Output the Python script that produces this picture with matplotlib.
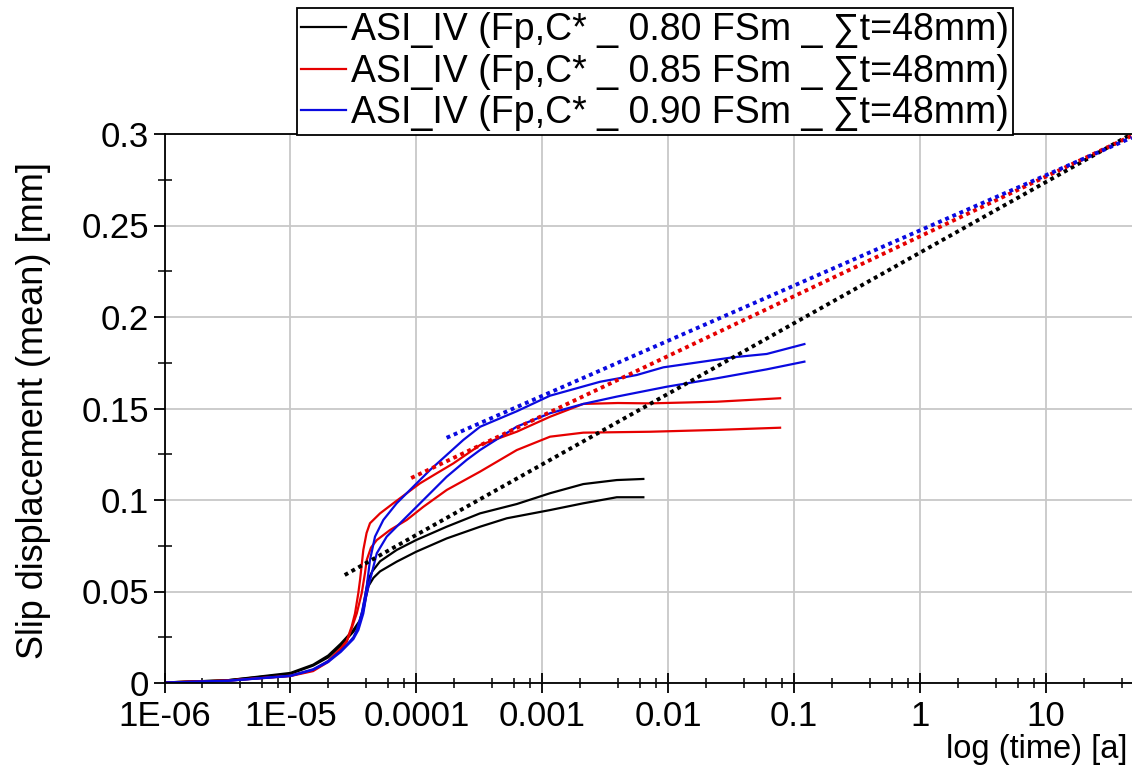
import numpy as np
import matplotlib
matplotlib.use("Agg")
import matplotlib.pyplot as plt
from matplotlib.ticker import LogLocator, MultipleLocator, FixedLocator, FixedFormatter

plt.rcParams['font.family'] = ['Liberation Sans', 'DejaVu Sans']

# measured curves, time stored as log10(t [a])
k1_logt = [-6.0, -5.5, -5.0, -4.82, -4.7, -4.6, -4.5, -4.45, -4.426, -4.405, -4.385, -4.35,
           -4.288, -4.156, -4.002, -3.759, -3.494, -3.202, -2.938, -2.674, -2.408, -2.197]
k1_y = [0.0003, 0.0015, 0.0055, 0.0100, 0.0150, 0.0215, 0.0290, 0.0340, 0.040, 0.048, 0.056, 0.061,
        0.0665, 0.0727, 0.0781, 0.0854, 0.0927, 0.0978, 0.1037, 0.1087, 0.1109, 0.1115]

k2_logt = [-6.0, -5.5, -5.0, -4.82, -4.7, -4.6, -4.5, -4.45, -4.42, -4.40, -4.38, -4.34,
           -4.288, -4.156, -4.002, -3.759, -3.494, -3.282, -2.938, -2.674, -2.408, -2.197]
k2_y = [0.0003, 0.0015, 0.0050, 0.0095, 0.0140, 0.0205, 0.0280, 0.0330, 0.040, 0.047, 0.053, 0.0575,
        0.0610, 0.0663, 0.0717, 0.0790, 0.0854, 0.0900, 0.0945, 0.0982, 0.1015, 0.1015]

r1_logt = [-6.0, -5.5, -5.0, -4.82, -4.7, -4.6, -4.553, -4.513, -4.487, -4.461, -4.447, -4.421,
           -4.395, -4.368, -4.288, -4.183, -4.076, -3.971, -3.838, -3.706, -3.494, -3.202,
           -2.938, -2.674, -2.4, -2.144, -1.614, -1.111]
r1_y = [0.0003, 0.0013, 0.0040, 0.0070, 0.0120, 0.0190, 0.0230, 0.0310, 0.038, 0.049, 0.0563, 0.0727,
        0.0820, 0.0873, 0.0927, 0.0982, 0.1037, 0.1091, 0.1146, 0.1200, 0.1300, 0.1373,
        0.1455, 0.1525, 0.1530, 0.1528, 0.1537, 0.1556]

r2_logt = [-6.0, -5.5, -5.0, -4.82, -4.7, -4.6, -4.553, -4.513, -4.473, -4.434, -4.408, -4.394,
           -4.36, -4.314, -4.209, -4.076, -3.944, -3.758, -3.494, -3.202, -2.938, -2.674,
           -2.144, -1.614, -1.111]
r2_y = [0.0003, 0.0013, 0.0038, 0.0065, 0.0115, 0.0185, 0.0225, 0.0300, 0.038, 0.049, 0.060, 0.0672,
        0.0740, 0.0781, 0.0836, 0.0891, 0.0963, 0.1055, 0.1155, 0.1273, 0.1346, 0.1368,
        0.1373, 0.1383, 0.1395]

b1_logt = [-6.0, -5.5, -5.0, -4.82, -4.7, -4.6, -4.55, -4.5, -4.473, -4.434, -4.408, -4.394,
           -4.368, -4.328, -4.262, -4.156, -4.024, -3.891, -3.759, -3.627, -3.494, -3.202,
           -2.938, -2.541, -2.25, -2.038, -1.482, -1.217, -0.918]
b1_y = [0.0002, 0.0012, 0.0040, 0.0075, 0.0120, 0.0175, 0.0210, 0.0250, 0.0290, 0.038, 0.0472, 0.0526,
        0.0672, 0.0800, 0.0891, 0.0982, 0.1073, 0.1164, 0.1246, 0.1328, 0.1400, 0.1485,
        0.1570, 0.1646, 0.1683, 0.1725, 0.1780, 0.1798, 0.1852]

b2_logt = [-6.0, -5.5, -5.0, -4.82, -4.7, -4.6, -4.5, -4.46, -4.421, -4.399, -4.381, -4.314,
           -4.235, -4.103, -3.944, -3.759, -3.600, -3.494, -3.202, -2.938, -2.674, -2.408,
           -2.011, -1.614, -1.217, -0.918]
b2_y = [0.0002, 0.0012, 0.0038, 0.0072, 0.0115, 0.0170, 0.0240, 0.0290, 0.038, 0.0472, 0.0526, 0.0709,
        0.0800, 0.0891, 0.1000, 0.1127, 0.1219, 0.1273, 0.1401, 0.1474, 0.1525, 0.1565,
        0.1619, 0.1665, 0.1714, 0.1756]

# logarithmic extrapolation lines
fit_k_t = [2.7e-5, 48]
fit_k_y = [0.059, 0.300]
fit_r_t = [9.1e-5, 48]
fit_r_y = [0.112, 0.299]
fit_b_t = [1.74e-4, 48]
fit_b_y = [0.134, 0.298]

labels = ["ASI_IV (Fp,C* _ 0.80 FSm _ \u2211t=48mm)",
          "ASI_IV (Fp,C* _ 0.85 FSm _ \u2211t=48mm)",
          "ASI_IV (Fp,C* _ 0.90 FSm _ \u2211t=48mm)"]
x_ticks = [1e-6, 1e-5, 1e-4, 1e-3, 1e-2, 1e-1, 1, 10]
x_ticklabels = ["1E-06", "1E-05", "0.0001", "0.001", "0.01", "0.1", "1", "10"]
y_ticks = [0, 0.05, 0.1, 0.15, 0.2, 0.25, 0.3]
y_ticklabels = ["0", "0.05", "0.1", "0.15", "0.2", "0.25", "0.3"]

black = "#000000"
red = "#e60000"
blue = "#0a0ae0"

W, H = 1132, 771
fig = plt.figure(figsize=(W / 100, H / 100), dpi=100)
ax = fig.add_axes([164.5 / W, (H - 683) / H, 969.4 / W, 549 / H])

lw = 1.6
ax.plot(10 ** np.array(k1_logt), k1_y, color=black, lw=lw, label=labels[0])
ax.plot(10 ** np.array(k2_logt), k2_y, color=black, lw=lw)
ax.plot(10 ** np.array(r1_logt), r1_y, color=red, lw=lw, label=labels[1])
ax.plot(10 ** np.array(r2_logt), r2_y, color=red, lw=lw)
ax.plot(10 ** np.array(b1_logt), b1_y, color=blue, lw=lw, label=labels[2])
ax.plot(10 ** np.array(b2_logt), b2_y, color=blue, lw=lw)

for t, y, c in [(fit_k_t, fit_k_y, black), (fit_r_t, fit_r_y, red), (fit_b_t, fit_b_y, blue)]:
    ax.plot(t, y, color=c, lw=2.8, linestyle=(0, (1, 1)), dash_capstyle='butt')

ax.set_xscale('log')
ax.set_xlim(1e-6, 50)
ax.set_ylim(0, 0.3)

ax.xaxis.set_major_locator(FixedLocator(x_ticks))
ax.xaxis.set_major_formatter(FixedFormatter(x_ticklabels))
ax.xaxis.set_minor_locator(LogLocator(base=10, subs=[2, 4, 6, 8], numticks=20))
ax.xaxis.set_minor_formatter(plt.NullFormatter())
ax.yaxis.set_major_locator(FixedLocator(y_ticks))
ax.yaxis.set_major_formatter(FixedFormatter(y_ticklabels))
ax.yaxis.set_minor_locator(MultipleLocator(0.025))

ax.grid(True, which='major', color='#c8c8c8', lw=1.3)
ax.set_axisbelow(True)

ax.tick_params(axis='x', which='major', direction='inout', length=14, width=1.3, labelsize=25, pad=5)
ax.tick_params(axis='x', which='minor', direction='inout', length=7, width=1.1)
ax.tick_params(axis='y', which='major', direction='out', length=8, width=1.3, labelsize=25, pad=3)
ax.tick_params(axis='y', which='minor', direction='inout', length=10, width=1.1)

for s in ['left', 'bottom', 'top']:
    ax.spines[s].set_linewidth(1.3)
ax.spines['right'].set_visible(False)

ax.set_ylabel("Slip displacement (mean) [mm]", fontsize=26)
ax.yaxis.set_label_coords(-0.117, 0.497)
ax.set_xlabel("log (time) [a]", fontsize=23.5, ha='right')
ax.xaxis.set_label_coords(0.993, -0.092)

leg = fig.legend(loc='lower left', bbox_to_anchor=(297 / W, (H - 135) / H), fontsize=27,
                 frameon=True, fancybox=False, edgecolor='black', framealpha=1,
                 handlelength=1.2, handletextpad=0.15, labelspacing=0.15, borderpad=0.1,
                 borderaxespad=0)
leg.get_frame().set_linewidth(1.3)

fig.savefig("out.png", dpi=100)
